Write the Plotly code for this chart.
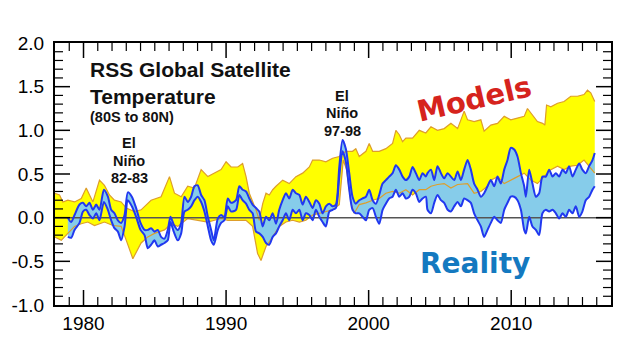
import plotly.graph_objects as go

# ---------------- data ----------------
# Model envelope (yellow band): upper and lower bounds
model_hi_years = [1977.97, 1978.32, 1978.55, 1978.9, 1979.37, 1979.84, 1980.19, 1980.66, 1981.12, 1981.47,
                  1981.82, 1982.17, 1982.64, 1983.0, 1983.58, 1984.04, 1984.74, 1985.44, 1986.03, 1986.38,
                  1986.85, 1987.31, 1987.78, 1988.25, 1988.72, 1989.18, 1989.65, 1990.0, 1990.35, 1990.82,
                  1991.16, 1991.4, 1991.63, 1992.1, 1992.33, 1992.57, 1992.8, 1993.03, 1993.27, 1993.5,
                  1993.97, 1994.43, 1994.9, 1995.37, 1995.84, 1996.07, 1996.54, 1997.0, 1997.47, 1997.94,
                  1998.4, 1998.87, 1999.1, 1999.34, 1999.81, 2000.04, 2000.28, 2000.74, 2001.21, 2001.68,
                  2001.91, 2002.15, 2002.38, 2002.61, 2003.08, 2003.55, 2004.01, 2004.37, 2004.83, 2005.3,
                  2005.77, 2006.24, 2006.7, 2006.94, 2007.4, 2007.87, 2008.1, 2008.57, 2009.04, 2009.51,
                  2009.97, 2010.44, 2010.91, 2011.14, 2011.38, 2011.84, 2012.2, 2012.36, 2012.48, 2012.78,
                  2013.25, 2013.71, 2014.18, 2014.65, 2015.11, 2015.35, 2015.58, 2015.86]
model_hi = [0.28, 0.26, 0.18, 0.20, 0.18, 0.22, 0.34, 0.18, 0.43, 0.37,
            0.26, 0.20, 0.18, 0.11, 0.07, 0.09, 0.20, 0.24, 0.47, 0.28,
            0.24, 0.36, 0.34, 0.55, 0.47, 0.51, 0.55, 0.64, 0.58, 0.58,
            0.62, 0.47, 0.28, 0.09, -0.03, 0.16, 0.28, 0.26, 0.32, 0.36,
            0.43, 0.39, 0.47, 0.51, 0.58, 0.66, 0.66, 0.64, 0.68, 0.70,
            0.76, 0.76, 0.79, 0.70, 0.76, 0.85, 0.76, 0.76, 0.79, 0.85,
            1.00, 0.95, 0.87, 0.91, 0.91, 1.00, 0.97, 1.04, 1.00, 1.02,
            1.08, 1.02, 1.22, 1.12, 1.10, 1.12, 0.99, 1.06, 1.08, 1.16,
            1.12, 1.14, 1.16, 1.25, 1.20, 1.10, 1.08, 1.06, 1.29, 1.27,
            1.31, 1.33, 1.39, 1.39, 1.41, 1.46, 1.43, 1.33]

model_lo_years = [1977.97, 1978.44, 1978.9, 1979.37, 1979.84, 1980.3, 1980.77, 1981.47, 1982.06, 1982.64,
                  1983.0, 1983.46, 1984.04, 1984.51, 1984.98, 1985.68, 1986.15, 1986.61, 1987.31, 1988.01,
                  1988.72, 1989.18, 1989.65, 1990.12, 1990.82, 1991.4, 1991.86, 1992.21, 1992.45, 1992.8,
                  1993.27, 1993.73, 1994.2, 1994.67, 1995.14, 1995.6, 1996.07, 1996.54, 1997.0, 1997.47,
                  1997.94, 1998.22, 1998.45, 1998.76, 1998.99, 1999.34, 1999.81, 2000.28, 2000.74, 2001.21,
                  2001.68, 2002.15, 2002.61, 2003.08, 2003.55, 2004.01, 2004.37, 2004.83, 2005.3, 2005.77,
                  2006.24, 2006.94, 2007.4, 2007.87, 2008.34, 2008.57, 2009.04, 2009.51, 2010.21, 2010.91,
                  2011.38, 2011.84, 2012.31, 2012.78, 2013.25, 2013.71, 2014.18, 2014.65, 2015.11, 2015.46,
                  2015.86]
model_lo = [-0.22, -0.26, -0.18, -0.10, -0.07, -0.05, -0.09, -0.05, -0.09, -0.10,
            -0.26, -0.47, -0.29, -0.22, -0.18, -0.14, -0.07, -0.10, -0.01, -0.03,
            -0.05, -0.03, -0.01, -0.03, -0.03, -0.03, -0.10, -0.41, -0.49, -0.33,
            -0.22, -0.10, -0.05, -0.03, -0.05, -0.03, 0.03, 0.05, 0.07, 0.09,
            0.15, 0.66, 0.55, 0.17, 0.05, 0.15, 0.17, 0.20, 0.22, 0.28,
            0.30, 0.28, 0.32, 0.26, 0.32, 0.32, 0.36, 0.38, 0.39, 0.34,
            0.38, 0.39, 0.28, 0.30, 0.36, 0.43, 0.47, 0.39, 0.45, 0.51,
            0.43, 0.39, 0.47, 0.55, 0.59, 0.55, 0.59, 0.60, 0.66, 0.59,
            0.51]

# Observations (blue band): upper and lower lines
obs_years = [1978.9, 1979.14, 1979.37, 1979.72, 1979.96, 1980.19, 1980.42, 1980.66, 1980.89, 1981.12,
             1981.43, 1981.71, 1981.94, 1982.17, 1982.41, 1982.64, 1982.88, 1983.11, 1983.39, 1983.69,
             1984.0, 1984.28, 1984.51, 1984.74, 1984.98, 1985.21, 1985.44, 1985.68, 1985.91, 1986.1,
             1986.33, 1986.61, 1986.85, 1987.08, 1987.31, 1987.55, 1987.78, 1988.01, 1988.25, 1988.48,
             1988.72, 1988.95, 1989.14, 1989.42, 1989.65, 1989.88, 1990.12, 1990.35, 1990.7,
             1990.93, 1991.16, 1991.4, 1991.63, 1991.86, 1992.1, 1992.33, 1992.57, 1992.8, 1993.03,
             1993.27, 1993.5, 1993.73, 1993.97, 1994.2, 1994.43, 1994.67, 1994.9, 1995.14, 1995.37,
             1995.6, 1995.84, 1996.07, 1996.3, 1996.54, 1996.77, 1997.0, 1997.24, 1997.47, 1997.7,
             1997.94, 1998.17, 1998.4, 1998.64, 1998.87, 1999.1, 1999.34, 1999.57, 1999.81, 2000.04,
             2000.28, 2000.51, 2000.74, 2000.98, 2001.21, 2001.44, 2001.68, 2001.91, 2002.15, 2002.38,
             2002.61, 2002.85, 2003.08, 2003.31, 2003.55, 2003.78, 2004.01,
             2004.13, 2004.37, 2004.6, 2004.83, 2005.07, 2005.3, 2005.54, 2005.77, 2006.0, 2006.24,
             2006.47, 2006.7, 2006.94, 2007.17, 2007.4, 2007.64, 2007.87, 2008.1, 2008.34, 2008.57,
             2008.81, 2009.04, 2009.27, 2009.51, 2009.74, 2009.97, 2010.21, 2010.44, 2010.68, 2010.91,
             2011.03, 2011.26, 2011.49, 2011.73, 2011.96, 2012.19, 2012.43, 2012.66, 2012.9, 2013.13,
             2013.36, 2013.6, 2013.83, 2014.06, 2014.3, 2014.53, 2014.77, 2014.99, 2015.23, 2015.47,
             2015.7, 2015.86]
obs_hi = [0.0, -0.05, 0.03, 0.15, 0.17, 0.13, 0.17, 0.09, 0.15, 0.09,
          0.32, 0.24, 0.09, 0.05, -0.03, -0.06, 0.03, 0.29, 0.24, 0.11,
          -0.06, -0.14, -0.14, -0.12, -0.16, -0.14, -0.22, -0.24, -0.14, 0.01,
          -0.08, -0.14, -0.06, 0.24, 0.18, 0.24, 0.36, 0.37, 0.26, 0.20,
          0.01, -0.14, -0.26, -0.01, 0.03, 0.01, 0.22, 0.17, 0.20,
          0.36, 0.32, 0.30, 0.22, 0.15, 0.11, 0.07, -0.10, 0.01, -0.03,
          0.05, -0.07, 0.09, 0.20, 0.28, 0.22, 0.32, 0.28, 0.26, 0.15,
          0.24, 0.18, 0.11, 0.20, 0.16, 0.05, 0.13, 0.16, 0.13, 0.15,
          0.58, 0.89, 0.79, 0.51, 0.24, 0.16, 0.20, 0.22, 0.24, 0.32,
          0.20, 0.16, 0.26, 0.39, 0.43, 0.47, 0.51, 0.60, 0.55, 0.47,
          0.43, 0.47, 0.58, 0.51, 0.43, 0.51, 0.47,
          0.51, 0.55, 0.43, 0.59, 0.51, 0.45, 0.51, 0.47, 0.43, 0.53,
          0.43, 0.55, 0.66, 0.55, 0.39, 0.32, 0.24, 0.28, 0.36, 0.43,
          0.36, 0.47, 0.39, 0.55, 0.66, 0.80, 0.78, 0.70, 0.51, 0.36,
          0.24, 0.55, 0.39, 0.24, 0.28, 0.47, 0.47, 0.55, 0.47, 0.51,
          0.47, 0.55, 0.51, 0.59, 0.47, 0.55, 0.62, 0.55, 0.51, 0.59,
          0.66, 0.74]
obs_lo = [-0.22, -0.23, -0.14, -0.06, 0.07, 0.09, 0.03, -0.01, 0.05, -0.03,
          0.18, 0.09, -0.03, -0.12, -0.16, -0.26, -0.10, 0.20, 0.13, 0.01,
          -0.14, -0.20, -0.35, -0.31, -0.26, -0.33, -0.31, -0.29, -0.26, -0.05,
          -0.16, -0.26, -0.18, 0.07, 0.09, 0.13, 0.20, 0.24, 0.18, 0.07,
          -0.10, -0.26, -0.31, -0.14, -0.06, -0.03, 0.13, 0.07, 0.09,
          0.26, 0.20, 0.16, 0.09, 0.05, -0.16, -0.18, -0.22, -0.29, -0.31,
          -0.22, -0.18, -0.10, -0.03, 0.05, -0.03, 0.09, 0.05, 0.09, -0.03,
          0.05, 0.03, -0.03, 0.09, 0.01, -0.05, -0.10, 0.07, 0.09, 0.11,
          0.47, 0.76, 0.64, 0.32, 0.09, 0.05, 0.05, 0.01, -0.03, 0.09,
          0.11, 0.01, -0.07, 0.09, 0.16, 0.22, 0.24, 0.32, 0.24, 0.28,
          0.22, 0.24, 0.32, 0.28, 0.18, 0.22, 0.24,
          0.09, 0.05, 0.17, 0.26, 0.20, 0.17, 0.09, 0.07, 0.13, 0.18,
          0.13, 0.22, 0.20, 0.17, 0.05, -0.03, -0.10, -0.22, -0.14, -0.06,
          0.01, -0.03, -0.06, 0.09, 0.17, 0.24, 0.24, 0.20, 0.09, -0.14,
          -0.18, 0.01, -0.10, -0.14, -0.20, 0.05, 0.09, 0.07, 0.09, 0.05,
          -0.01, 0.05, 0.01, 0.09, 0.05, 0.13, 0.01, 0.07, 0.20, 0.24,
          0.32, 0.36]

x_range = [1978, 2017]
y_range = [-1.0, 2.0]
x_tick_vals = [1980, 1990, 2000, 2010]
x_tick_text = ["1980", "1990", "2000", "2010"]
y_tick_vals = [-1.0, -0.5, 0.0, 0.5, 1.0, 1.5, 2.0]
y_tick_text = ["-1.0 ", "-0.5 ", "0.0 ", "0.5 ", "1.0 ", "1.5 ", "2.0 "]

# ---------------- geometry of the frame ----------------
W, H = 628, 353
M_L, M_R, M_T, M_B = 55, 17, 43, 48
px_x = (W - M_L - M_R) / (x_range[1] - x_range[0])
px_y = (H - M_T - M_B) / (y_range[1] - y_range[0])
MAJOR_LEN, MINOR_LEN = 15, 8

# ---------------- figure ----------------
YELLOW = "#FFFF00"
ORANGE = "#DE9E2A"
SKY = "#86CCEA"
BLUE = "#2138F0"

fig = go.Figure()

fig.add_trace(go.Scatter(x=model_lo_years, y=model_lo, mode="lines",
                         line=dict(width=0, color="rgba(0,0,0,0)"), hoverinfo="skip"))
fig.add_trace(go.Scatter(x=model_hi_years, y=model_hi, mode="lines", fill="tonexty",
                         fillcolor=YELLOW, line=dict(width=0, color="rgba(0,0,0,0)"), hoverinfo="skip"))

fig.add_trace(go.Scatter(x=obs_years, y=obs_lo, mode="lines",
                         line=dict(width=0, color="rgba(0,0,0,0)", shape="spline", smoothing=0.7),
                         hoverinfo="skip"))
fig.add_trace(go.Scatter(x=obs_years, y=obs_hi, mode="lines", fill="tonexty", fillcolor=SKY,
                         line=dict(width=0, color="rgba(0,0,0,0)", shape="spline", smoothing=0.7),
                         hoverinfo="skip"))

fig.add_trace(go.Scatter(x=model_hi_years, y=model_hi, mode="lines",
                         line=dict(width=1.2, color=ORANGE), hoverinfo="skip"))
fig.add_trace(go.Scatter(x=model_lo_years, y=model_lo, mode="lines",
                         line=dict(width=1.2, color=ORANGE), hoverinfo="skip"))

fig.add_trace(go.Scatter(x=x_range, y=[0, 0], mode="lines",
                         line=dict(width=1.5, color="#555555"), hoverinfo="skip"))

fig.add_trace(go.Scatter(x=obs_years, y=obs_hi, mode="lines",
                         line=dict(width=2, color=BLUE, shape="spline", smoothing=0.7), hoverinfo="skip"))
fig.add_trace(go.Scatter(x=obs_years, y=obs_lo, mode="lines",
                         line=dict(width=2, color=BLUE, shape="spline", smoothing=0.7), hoverinfo="skip"))

# inward tick marks on all four sides, as layout shapes derived from the axis ranges
x_major = [t for t in range(x_range[0] + 1, x_range[1]) if t % 10 == 0]
x_minor = [t for t in range(x_range[0] + 1, x_range[1]) if t % 10 != 0]
y_steps = [round(y_range[0] + 0.1 * i, 1) for i in range(1, 30)]
y_major = [v for v in y_steps if abs(v * 2 - round(v * 2)) < 1e-9]
y_minor = [v for v in y_steps if v not in y_major]

shapes = []
for ticks_x, ticks_y, length, width in [(x_major, y_major, MAJOR_LEN, 1.5), (x_minor, y_minor, MINOR_LEN, 1.2)]:
    dy = length / px_y
    dx = length / px_x
    ln = dict(color="black", width=width)
    for t in ticks_x:
        shapes.append(dict(type="line", xref="x", yref="y", x0=t, x1=t,
                           y0=y_range[0], y1=y_range[0] + dy, line=ln, layer="above"))
        shapes.append(dict(type="line", xref="x", yref="y", x0=t, x1=t,
                           y0=y_range[1], y1=y_range[1] - dy, line=ln, layer="above"))
    for v in ticks_y:
        shapes.append(dict(type="line", xref="x", yref="y", x0=x_range[0], x1=x_range[0] + dx,
                           y0=v, y1=v, line=ln, layer="above"))
        shapes.append(dict(type="line", xref="x", yref="y", x0=x_range[1], x1=x_range[1] - dx,
                           y0=v, y1=v, line=ln, layer="above"))

tick_font = dict(family="Liberation Sans, Arial, sans-serif", size=19, color="black")

main_ax = dict(showgrid=False, zeroline=False, showline=True, linecolor="black", linewidth=1.5,
               mirror=True, ticks="", tickfont=tick_font)

fig.update_layout(
    width=W, height=H,
    margin=dict(l=M_L, r=M_R, t=M_T, b=M_B),
    paper_bgcolor="white", plot_bgcolor="white",
    showlegend=False,
    shapes=shapes,
    xaxis=dict(range=x_range, tickvals=x_tick_vals, ticktext=x_tick_text, **main_ax),
    yaxis=dict(range=y_range, tickvals=y_tick_vals, ticktext=y_tick_text, **main_ax),
)

bold = "Liberation Sans, Arial, sans-serif"
heavy = "DejaVu Sans, sans-serif"
ann = [
    dict(text="<b>RSS Global Satellite</b>", x=1980.28, y=1.70, xanchor="left",
         font=dict(family=bold, size=21, color="#111111")),
    dict(text="<b>Temperature</b>", x=1980.28, y=1.39, xanchor="left",
         font=dict(family=bold, size=21, color="#111111")),
    dict(text="<b>(80S to 80N)</b>", x=1980.28, y=1.15, xanchor="left",
         font=dict(family=bold, size=14.5, color="#111111")),
    dict(text="<b>El</b>", x=1983.22, y=0.855, font=dict(family=bold, size=14.5, color="#111111")),
    dict(text="<b>Niño</b>", x=1983.22, y=0.65, font=dict(family=bold, size=14.5, color="#111111")),
    dict(text="<b>82-83</b>", x=1983.22, y=0.455, font=dict(family=bold, size=14.5, color="#111111")),
    dict(text="<b>El</b>", x=1998.15, y=1.394, font=dict(family=bold, size=14.5, color="#111111")),
    dict(text="<b>Niño</b>", x=1998.15, y=1.20, font=dict(family=bold, size=14.5, color="#111111")),
    dict(text="<b>97-98</b>", x=1998.15, y=0.993, font=dict(family=bold, size=14.5, color="#111111")),
    dict(text="<b>Models</b>", x=2007.4, y=1.36, textangle=-13,
         font=dict(family=heavy, size=29, color="#D6231D")),
    dict(text="<b>Reality</b>", x=2007.47, y=-0.52,
         font=dict(family=heavy, size=28, color="#1479C0")),
]
for a in ann:
    a.setdefault("xanchor", "center")
    a.setdefault("yanchor", "middle")
    fig.add_annotation(xref="x", yref="y", showarrow=False, **a)

fig.write_html("out.html")
